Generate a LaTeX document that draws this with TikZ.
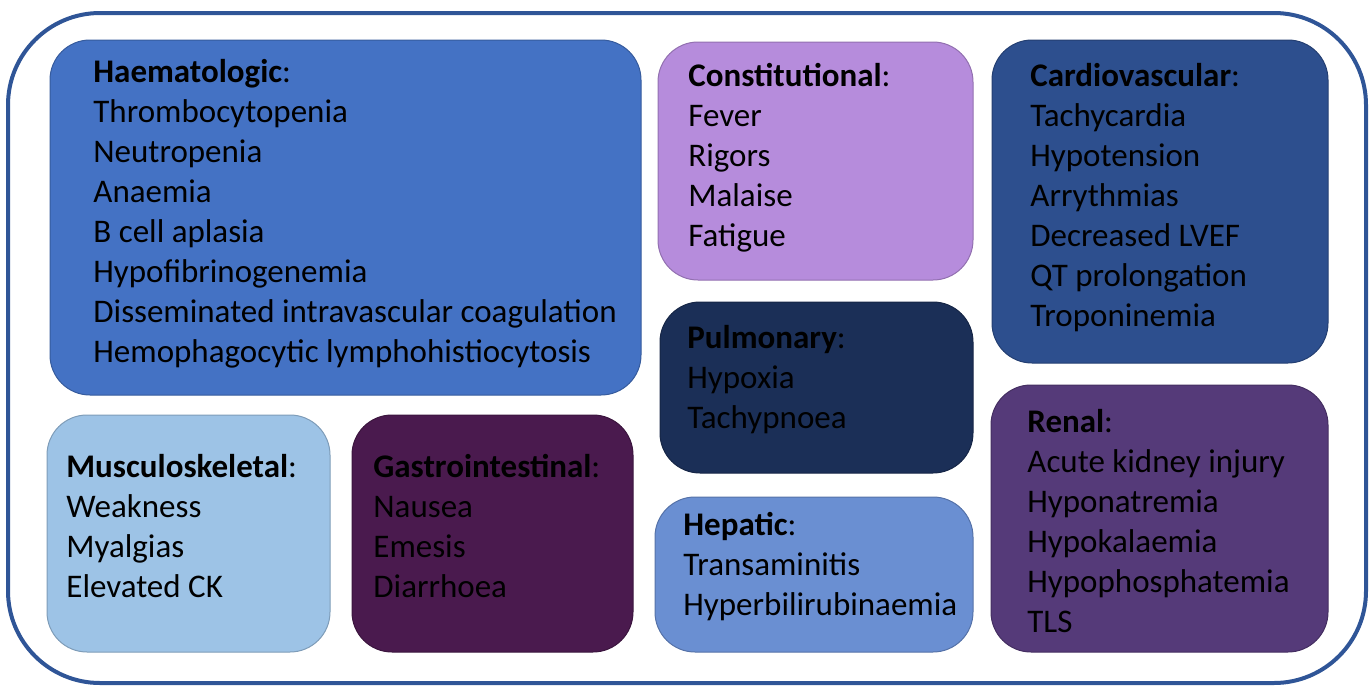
\documentclass[tikz,border=0pt]{standalone}
\usepackage{fontspec}
\setmainfont{Carlito}
\usetikzlibrary{positioning}
\definecolor{frameblue}{HTML}{2F5597}
\definecolor{haemcol}{HTML}{4472C4}
\definecolor{constcol}{HTML}{B68CDC}
\definecolor{cardiocol}{HTML}{2D4F8E}
\definecolor{pulmcol}{HTML}{1B2F57}
\definecolor{renalcol}{HTML}{553A79}
\definecolor{muscol}{HTML}{9DC3E6}
\definecolor{gicol}{HTML}{4A1A4E}
\definecolor{hepcol}{HTML}{6A8FD2}

\begin{document}
\begin{tikzpicture}[x=0.5pt,y=-0.5pt,
  box/.style={rounded corners=20pt,draw=#1!80!black,line width=.5pt,fill=#1},
  txt/.style={anchor=base west,align=left,inner sep=0pt,font=\fontsize{16.5}{20}\selectfont}]
\useasboundingbox (0,0) rectangle (1371,686);
\draw[frameblue,line width=2pt,rounded corners=46pt] (8,13) rectangle (1366,683);
% boxes
\draw[box=haemcol] (50,40) rectangle (641,395); \draw[box=constcol] (658,42) rectangle (973,280);
\draw[box=cardiocol] (992,40) rectangle (1328,363); \draw[box=pulmcol] (660,302) rectangle (973,473);
\draw[box=renalcol] (991,385) rectangle (1328,652); \draw[box=muscol] (47,415) rectangle (330,652);
\draw[box=gicol] (352,415) rectangle (633,652); \draw[box=hepcol] (655,497) rectangle (973,652);
% texts (placed at the baseline of their last line)
\node[txt] (haem) at (93,362) {\textbf{Haematologic}:\\Thrombocytopenia\\Neutropenia\\Anaemia\\B cell aplasia\\Hypofibrinogenemia\\Disseminated intravascular coagulation\\Hemophagocytic lymphohistiocytosis};
\node[txt] (const) at (688,246) {\textbf{Constitutional}:\\Fever\\Rigors\\Malaise\\Fatigue};
\node[txt] (cardio) at (1030,326) {\textbf{Cardiovascular}:\\Tachycardia\\Hypotension\\Arrythmias\\Decreased LVEF\\QT prolongation\\Troponinemia};
\node[txt] (pulm) at (687,428) {\textbf{Pulmonary}:\\Hypoxia\\Tachypnoea};
\node[txt] (renal) at (1027,632) {\textbf{Renal}:\\Acute kidney injury\\Hyponatremia\\Hypokalaemia\\Hypophosphatemia\\TLS};
\node[txt] (mus) at (66,597) {\textbf{Musculoskeletal}:\\Weakness\\Myalgias\\Elevated CK};
\node[txt] (gi) at (373,597) {\textbf{Gastrointestinal}:\\Nausea\\Emesis\\Diarrhoea};
\node[txt] (hep) at (683,615) {\textbf{Hepatic}:\\Transaminitis\\Hyperbilirubinaemia};
\end{tikzpicture}
\end{document}
